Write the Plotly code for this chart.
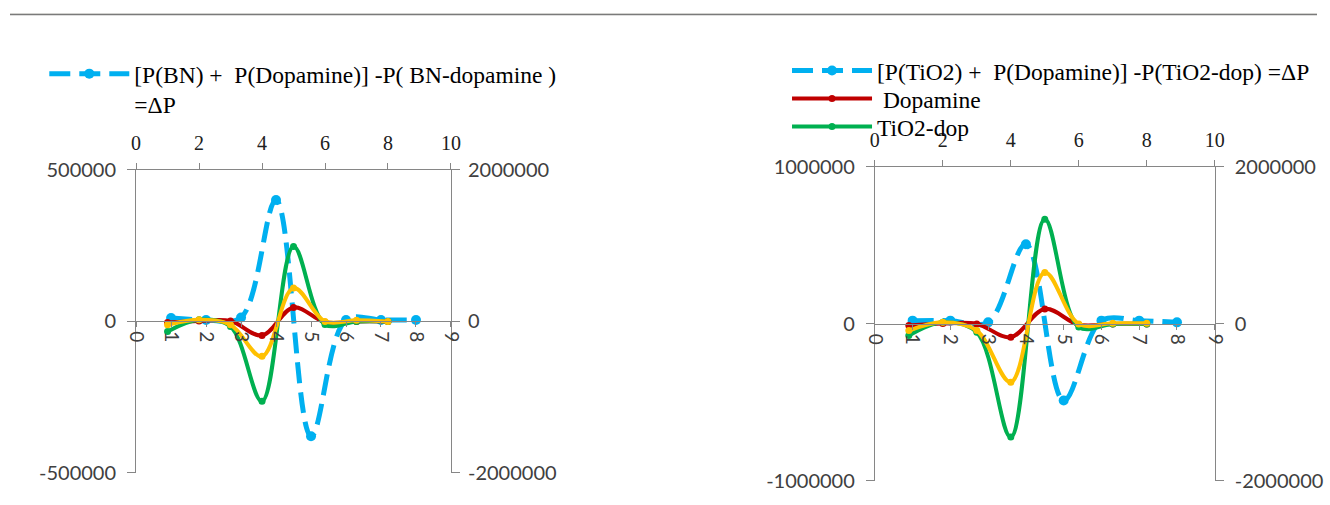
import plotly.graph_objects as go

# ---------------- data ----------------
x_pts = [1, 2, 3, 4, 5, 6, 7, 8]

# Left chart (BN)
bn_delta_name = "[P(BN) +\u00a0 P(Dopamine)] -P( BN-dopamine )<br>=ΔP"
bn_delta = [11000, 5000, 13000, 401000, -379000, 5000, 5000, 5000]       # left axis
bn_dopamine = [-15000, 5000, 5000, -185000, 185000, -10000, 0, 0]         # right axis
bn_complex = [-132000, 22000, -66000, -1055000, 989000, -40000, 0, 0]     # right axis (green)
bn_other = [-43000, 22000, -43000, -461000, 440000, 0, 15000, 0]          # right axis (yellow)

# Right chart (TiO2)
ti_delta_name = "[P(TiO2) +\u00a0 P(Dopamine)] -P(TiO2-dop) =ΔP"
ti_dopamine_name = " Dopamine"
ti_complex_name = "TiO2-dop"
ti_delta = [21000, 21000, 10000, 508000, -488000, 21000, 21000, 10000]
ti_dopamine = [-21000, 5000, 0, -170000, 191000, -10000, 0, 0]
ti_complex = [-149000, 20000, -107000, -1442000, 1335000, -40000, 0, 0]
ti_other = [-85000, 20000, -85000, -742000, 656000, 0, 8000, 8000]

bottom_ticks = list(range(0, 10))
top_ticks = [0, 2, 4, 6, 8, 10]
bn_left_ticks = [-500000, 0, 500000]
bn_left_text = ["-500000", "0", "500000"]
right_ticks = [-2000000, 0, 2000000]
right_text = ["-2000000", "0", "2000000"]
ti_left_ticks = [-1000000, 0, 1000000]
ti_left_text = ["-1000000", "0", "1000000"]

# ---------------- style ----------------
W, H = 1330, 505
BLUE, RED, GREEN, YELLOW = "#00B0F0", "#C00000", "#00B050", "#FFC000"
AX = "#868686"
SANS = "Lato, 'Liberation Sans', sans-serif"
SERIF = "'Liberation Serif', 'Times New Roman', serif"

# the photographed page appears slightly inset/scaled; map target positions to page pixels
SX, OX, SY, OY = 0.983, 10.6, 0.955, 11.6

def px_x(p):
    return ((p - OX) / SX) / W

def px_y(p):
    return 1 - ((p - OY) / SY) / H

def raw_x(p):
    return p / W

def raw_y(p):
    return 1 - p / H

L_dom_x = [px_x(136.7), px_x(451.7)]
L_dom_y = [px_y(472.7), px_y(169)]
R_dom_x = [px_x(875.7), px_x(1215.7)]
R_dom_y = [px_y(480.7), px_y(166)]

fig = go.Figure()

def add_chart(xa_b, xa_t, ya_l, ya_r, delta, delta_name, dop, dop_name, comp, comp_name,
              other, legs, show_more):
    fig.add_trace(go.Scatter(
        x=x_pts, y=delta, xaxis=xa_b, yaxis=ya_l, mode="lines+markers",
        name=delta_name, legend=legs[0],
        line=dict(color=BLUE, width=5, dash="21px,9px", shape="spline"),
        marker=dict(color=BLUE, size=10)))
    fig.add_trace(go.Scatter(
        x=x_pts, y=dop, xaxis=xa_t, yaxis=ya_r, mode="lines+markers",
        name=dop_name, legend=legs[1], showlegend=show_more,
        line=dict(color=RED, width=4, shape="spline"),
        marker=dict(color=RED, size=7)))
    fig.add_trace(go.Scatter(
        x=x_pts, y=comp, xaxis=xa_t, yaxis=ya_r, mode="lines+markers",
        name=comp_name, legend=legs[2], showlegend=show_more,
        line=dict(color=GREEN, width=4, shape="spline"),
        marker=dict(color=GREEN, size=7)))
    fig.add_trace(go.Scatter(
        x=x_pts, y=other, xaxis=xa_t, yaxis=ya_r, mode="lines+markers",
        name="series 4", showlegend=False,
        line=dict(color=YELLOW, width=4, shape="spline"),
        marker=dict(color=YELLOW, size=7)))

add_chart("x", "x2", "y", "y2", bn_delta, bn_delta_name, bn_dopamine, "Dopamine",
          bn_complex, "BN-dop", bn_other, ["legend", "legend", "legend"], False)
add_chart("x3", "x4", "y3", "y4", ti_delta, ti_delta_name, ti_dopamine, ti_dopamine_name,
          ti_complex, ti_complex_name, ti_other, ["legend2", "legend3", "legend4"], True)

common = dict(showgrid=False, zeroline=False, showline=True, linecolor=AX, linewidth=1,
              ticks="outside", tickcolor=AX, tickwidth=1)

def bottom_axis(dom_x, dom_y):
    return dict(common, domain=dom_x, range=[0, 9], anchor="free",
                position=(dom_y[0] + dom_y[1]) / 2, tickvals=bottom_ticks,
                ticktext=[str(t) for t in bottom_ticks], tickangle=90, ticklen=5,
                tickfont=dict(family=SANS, size=19, color="#404040"))

def top_axis(over, anchor):
    return dict(common, overlaying=over, side="top", anchor=anchor, range=[0, 10],
                tickvals=top_ticks, ticktext=[str(t) for t in top_ticks], ticklen=6,
                ticklabelstandoff=5,
                tickfont=dict(family=SERIF, size=20, color="#202020"))

def left_axis(dom_y, anchor, rng, tv, tt):
    return dict(common, domain=dom_y, anchor=anchor, range=rng, tickvals=tv, ticktext=tt,
                ticklen=8, ticklabelstandoff=7,
                tickfont=dict(family=SANS, size=20, color="#404040"))

def right_axis(over, anchor, rng, tv, tt, standoff):
    return dict(common, overlaying=over, side="right", anchor=anchor, range=rng,
                tickvals=tv, ticktext=tt, ticklen=8, ticklabelstandoff=standoff,
                tickfont=dict(family=SANS, size=20, color="#404040"))

legend_style = dict(xanchor="left", yanchor="top", bgcolor="rgba(0,0,0,0)",
                    font=dict(family=SERIF, size=23.5, color="black"),
                    itemwidth=80, valign="top")

fig.update_layout(
    width=W, height=H, margin=dict(l=0, r=0, t=0, b=0),
    paper_bgcolor="white", plot_bgcolor="rgba(0,0,0,0)",
    xaxis=bottom_axis(L_dom_x, L_dom_y),
    xaxis2=top_axis("x", "y"),
    yaxis=left_axis(L_dom_y, "x", [-500000, 500000], bn_left_ticks, bn_left_text),
    yaxis2=right_axis("y", "x", [-2000000, 2000000], right_ticks, right_text, 4),
    xaxis3=bottom_axis(R_dom_x, R_dom_y),
    xaxis4=top_axis("x3", "y3"),
    yaxis3=left_axis(R_dom_y, "x3", [-1000000, 1000000], ti_left_ticks, ti_left_text),
    yaxis4=right_axis("y3", "x3", [-2000000, 2000000], right_ticks, right_text, 7),
    legend=dict(legend_style, x=raw_x(34.9), y=raw_y(40.8)),
    legend2=dict(legend_style, x=raw_x(790.7), y=raw_y(37.6)),
    legend3=dict(legend_style, x=raw_x(790.7), y=raw_y(67)),
    legend4=dict(legend_style, x=raw_x(790.7), y=raw_y(96.3)),
    showlegend=True,
    shapes=[
        dict(type="rect", xref="paper", yref="paper", x0=0, x1=1, y0=raw_y(1.5), y1=1,
             fillcolor="#F1F1EC", line=dict(width=0), layer="below"),
        dict(type="line", xref="paper", yref="paper", x0=0, x1=1, y0=raw_y(1.5), y1=raw_y(1.5),
             line=dict(color="#7A7A7A", width=1.5)),
    ],
)

fig.write_html("out.html", config={"displayModeBar": False},
               post_script="document.body.style.margin='0';")
